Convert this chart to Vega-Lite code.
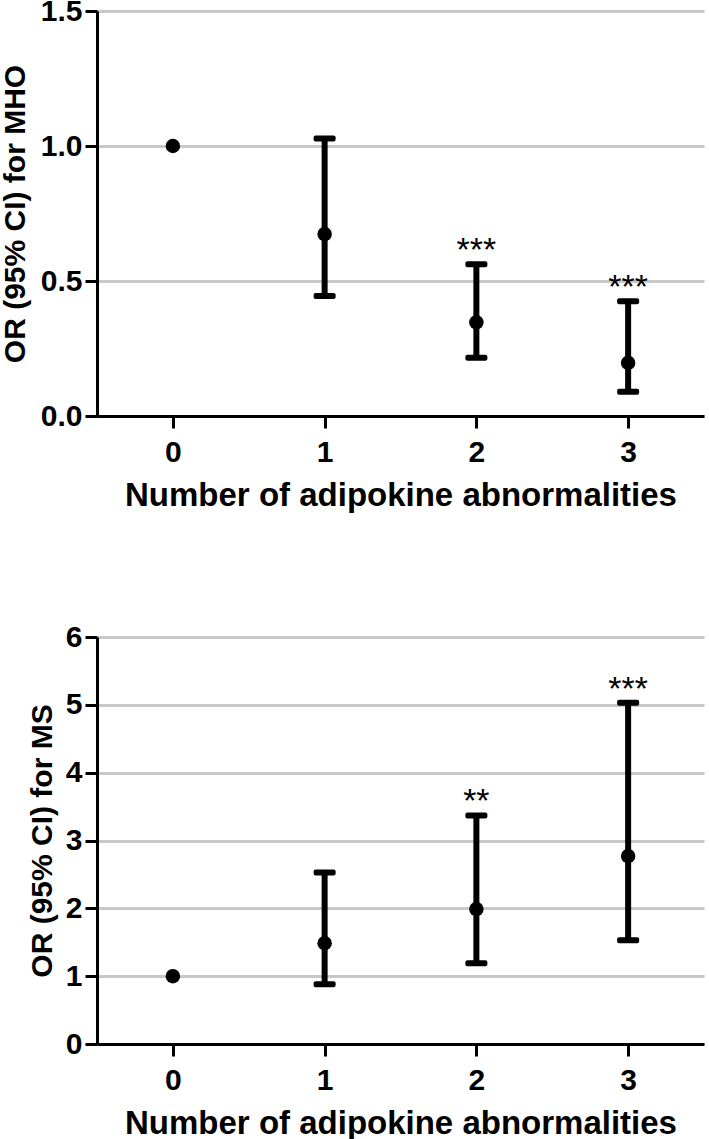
{
  "$schema": "https://vega.github.io/schema/vega-lite/v6.json",
  "background": "white",
  "padding": {"left": 0, "top": -4, "right": 4, "bottom": 0},
  "spacing": 110,
  "config": {
    "view": {"stroke": null},
    "font": "Liberation Sans",
    "axis": {
      "domainColor": "black",
      "domainWidth": 3,
      "tickColor": "black",
      "tickWidth": 3,
      "tickSize": 12,
      "labelFont": "Liberation Sans",
      "labelFontWeight": "bold",
      "labelFontSize": 30,
      "labelColor": "black",
      "titleFont": "Liberation Sans",
      "titleFontWeight": "bold",
      "titleColor": "black",
      "gridColor": "#c8c8c8",
      "gridWidth": 3,
      "gridOpacity": 1
    },
    "axisX": {"grid": false, "labelPadding": 9, "titleFontSize": 33, "titlePadding": 12},
    "axisY": {"grid": true, "labelPadding": 3, "titleFontSize": 30, "titlePadding": 10}
  },
  "datasets": {
    "mho": [
      {"n": 0, "or": 1.0, "lower": null, "upper": null, "star": ""},
      {"n": 1, "or": 0.674, "lower": 0.444, "upper": 1.028, "star": ""},
      {"n": 2, "or": 0.347, "lower": 0.216, "upper": 0.562, "star": "***"},
      {"n": 3, "or": 0.197, "lower": 0.09, "upper": 0.425, "star": "***"}
    ],
    "ms": [
      {"n": 0, "or": 1.0, "lower": null, "upper": null, "star": ""},
      {"n": 1, "or": 1.487, "lower": 0.88, "upper": 2.53, "star": ""},
      {"n": 2, "or": 1.99, "lower": 1.19, "upper": 3.37, "star": "**"},
      {"n": 3, "or": 2.77, "lower": 1.53, "upper": 5.03, "star": "***"}
    ]
  },
  "vconcat": [
    {
      "width": 607,
      "height": 405,
      "data": {"name": "mho"},
      "encoding": {
        "x": {"field": "n", "type": "quantitative", "scale": {"domain": [-0.5, 3.5], "nice": false},
              "axis": {"values": [0, 1, 2, 3], "format": "d", "title": "Number of adipokine abnormalities"}}
      },
      "layer": [
        {
          "transform": [{"filter": "datum.lower != null"}],
          "mark": {"type": "rule", "color": "black", "strokeWidth": 6},
          "encoding": {
            "y": {"field": "lower", "type": "quantitative", "scale": {"domain": [0, 1.5], "nice": false},
                  "axis": {"values": [0, 0.5, 1, 1.5], "format": ".1f", "title": "OR (95% CI) for MHO"}},
            "y2": {"field": "upper"}
          }
        },
        {
          "transform": [{"filter": "datum.lower != null"}],
          "mark": {"type": "tick", "orient": "horizontal", "color": "black", "opacity": 1, "size": 22, "thickness": 6, "cornerRadius": 2},
          "encoding": {"y": {"field": "lower", "type": "quantitative"}}
        },
        {
          "transform": [{"filter": "datum.lower != null"}],
          "mark": {"type": "tick", "orient": "horizontal", "color": "black", "opacity": 1, "size": 22, "thickness": 6, "cornerRadius": 2},
          "encoding": {"y": {"field": "upper", "type": "quantitative"}}
        },
        {
          "mark": {"type": "point", "shape": "circle", "filled": true, "color": "black", "size": 210, "opacity": 1},
          "encoding": {"y": {"field": "or", "type": "quantitative"}}
        },
        {
          "transform": [{"filter": "datum.lower != null"}],
          "mark": {"type": "text", "fontSize": 34, "font": "Liberation Sans", "color": "black", "baseline": "alphabetic", "align": "center", "dy": -3},
          "encoding": {"y": {"field": "upper", "type": "quantitative"}, "text": {"field": "star"}}
        }
      ]
    },
    {
      "width": 607,
      "height": 407,
      "data": {"name": "ms"},
      "encoding": {
        "x": {"field": "n", "type": "quantitative", "scale": {"domain": [-0.5, 3.5], "nice": false},
              "axis": {"values": [0, 1, 2, 3], "format": "d", "title": "Number of adipokine abnormalities"}}
      },
      "layer": [
        {
          "transform": [{"filter": "datum.lower != null"}],
          "mark": {"type": "rule", "color": "black", "strokeWidth": 6},
          "encoding": {
            "y": {"field": "lower", "type": "quantitative", "scale": {"domain": [0, 6], "nice": false},
                  "axis": {"values": [0, 1, 2, 3, 4, 5, 6], "format": "d", "title": "OR (95% CI) for MS", "titlePadding": 8}},
            "y2": {"field": "upper"}
          }
        },
        {
          "transform": [{"filter": "datum.lower != null"}],
          "mark": {"type": "tick", "orient": "horizontal", "color": "black", "opacity": 1, "size": 22, "thickness": 6, "cornerRadius": 2},
          "encoding": {"y": {"field": "lower", "type": "quantitative"}}
        },
        {
          "transform": [{"filter": "datum.lower != null"}],
          "mark": {"type": "tick", "orient": "horizontal", "color": "black", "opacity": 1, "size": 22, "thickness": 6, "cornerRadius": 2},
          "encoding": {"y": {"field": "upper", "type": "quantitative"}}
        },
        {
          "mark": {"type": "point", "shape": "circle", "filled": true, "color": "black", "size": 210, "opacity": 1},
          "encoding": {"y": {"field": "or", "type": "quantitative"}}
        },
        {
          "transform": [{"filter": "datum.lower != null"}],
          "mark": {"type": "text", "fontSize": 34, "font": "Liberation Sans", "color": "black", "baseline": "alphabetic", "align": "center", "dy": -3},
          "encoding": {"y": {"field": "upper", "type": "quantitative"}, "text": {"field": "star"}}
        }
      ]
    }
  ]
}
